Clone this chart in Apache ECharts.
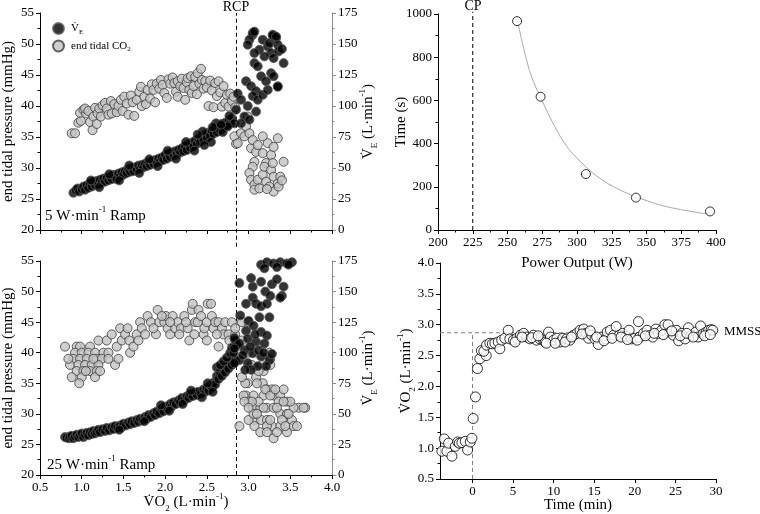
<!DOCTYPE html>
<html><head><meta charset="utf-8">
<script src="https://cdn.jsdelivr.net/npm/echarts@6/dist/echarts.min.js"></script>
<style>html,body{margin:0;padding:0;background:#fff}#c{width:760px;height:514px}</style>
</head><body><div id="c"></div>
<script>
// ---------------- DATA ----------------
const rcpVO2 = 2.855;
const veTop = [[0.90,30],[0.93,32],[0.95,33.5],[0.97,31],[1.00,33],[1.02,35],[1.04,32.5],[1.06,36],[1.08,34],[1.10,37.5],[1.12,35],[1.14,39],[1.16,36.5],[1.18,39.5],[1.20,37],[1.22,40.5],[1.24,38],[1.26,41.5],[1.28,39],[1.30,42],[1.32,40],[1.34,43],[1.36,41],[1.38,44.5],[1.40,42.5],[1.42,41],[1.44,45.5],[1.46,43.5],[1.48,46.5],[1.50,44.5],[1.52,47.5],[1.54,46],[1.56,49],[1.58,47],[1.60,50],[1.62,47.5],[1.64,50.5],[1.66,49],[1.68,52],[1.70,49.5],[1.72,52.5],[1.74,50.5],[1.76,53.5],[1.78,51.5],[1.80,54.5],[1.82,52.5],[1.84,55.5],[1.86,53.5],[1.88,56.5],[1.90,54.5],[1.92,57.5],[1.94,55.5],[1.96,58.5],[1.98,56.5],[2.00,60.5],[2.02,57.5],[2.04,61.5],[2.06,59],[2.08,62.5],[2.10,60],[2.12,63.5],[2.14,61],[2.16,64.5],[2.18,62.5],[2.20,66],[2.22,63.5],[2.24,67.5],[2.26,64.5],[2.28,69],[2.30,66.5],[2.32,70.5],[2.34,67.5],[2.36,72],[2.38,69.5],[2.40,73.5],[2.42,71],[2.44,75.5],[2.46,72.5],[2.48,77],[2.50,74.5],[2.52,78.5],[2.54,76],[2.56,80],[2.58,77.5],[2.60,81.5],[2.62,79],[2.64,83.5],[2.66,80.5],[2.68,85.5],[2.70,82.5],[2.72,86.5],[2.74,84.5],[2.76,88],[2.78,86],[2.80,90],
[1.11,40],[1.21,34.5],[1.33,45],[1.45,40],[1.57,52],[1.69,46],[1.81,57],[1.91,51.5],[2.03,64],[2.13,57.5],[2.25,71],[2.35,64],[2.45,79.5],[2.55,71],[2.61,86],[2.69,79],[2.77,92],[2.47,68.5],[2.57,83],[2.39,77],
[2.83,86],[2.75,83.5],[2.67,85],[2.85,97],[2.87,110],[2.91,105],[2.97,120],[3.03,116],[3.09,112],[3.15,124],[3.21,120],[3.27,126.5],[3.35,116],[3.05,108],[3.11,105],[2.99,100],[2.95,91.5],[2.91,86],[3.01,89],[3.09,95.5],[3.17,109],[3.23,113],[3.30,124],
[3.05,157.5],[3.01,153.4],[2.99,149.4],[3.17,153.4],[3.29,157.5],[3.33,154.8],[3.35,149.4],[3.23,148],[3.13,145.4],[3.07,142.7],[3.27,142.7],[3.36,144],[3.42,134.6],[3.07,134.6],[3.19,140],[3.30,138.6],[3.11,132],[3.25,150.8],[3.05,159],[3.07,160],[3.29,157],[3.33,156],[3.40,146],[3.35,115.5]];
const co2Top = [[0.88,35.6],[0.92,35.6],[0.96,37.3],[0.99,37.6],[0.98,38.9],[1.02,39.4],[1.05,38.8],[1.04,39.6],[1.08,39.2],[1.10,37.4],[1.13,36.1],[1.14,38.3],[1.16,39.7],[1.18,37.1],[1.19,38.8],[1.21,39.6],[1.23,38.3],[1.25,40.1],[1.28,40.5],[1.30,39.6],[1.32,38.6],[1.35,40.8],[1.36,38.8],[1.39,40.3],[1.42,39.0],[1.44,40.0],[1.47,41.0],[1.49,39.2],[1.51,41.5],[1.54,40.4],[1.56,38.6],[1.59,41.7],[1.61,40.6],[1.63,38.4],[1.66,41.0],[1.69,42.3],[1.71,43.1],[1.72,40.0],[1.75,41.5],[1.77,40.3],[1.79,42.6],[1.82,41.2],[1.84,43.5],[1.86,42.6],[1.88,40.6],[1.90,43.6],[1.93,42.8],[1.95,44.2],[1.97,43.4],[1.99,42.1],[2.02,41.3],[2.04,44.3],[2.06,43.6],[2.09,44.6],[2.11,43.7],[2.13,42.3],[2.15,44.0],[2.15,41.5],[2.18,43.2],[2.20,44.4],[2.22,42.9],[2.24,41.0],[2.26,43.8],[2.27,44.5],[2.29,42.6],[2.31,44.8],[2.32,42.1],[2.34,43.2],[2.36,44.7],[2.38,41.9],[2.39,45.3],[2.41,43.6],[2.43,46.0],[2.44,44.2],[2.46,42.8],[2.48,44.0],[2.50,43.0],[2.52,40.0],[2.54,44.1],[2.56,42.5],[2.58,39.8],[2.60,43.7],[2.62,41.6],[2.64,44.0],[2.66,42.2],[2.68,39.9],[2.70,43.2],[2.72,40.5],[2.74,41.8],[2.76,39.9],[2.78,42.0],[2.80,40.8],[2.82,41.5],[2.84,39.8],
[2.85,33.9],[2.83,35.1],[2.87,34.0],[2.91,35.6],[2.95,35.1],[2.99,38.3],[2.97,36.7],[3.01,35.6],[3.03,33.2],[3.05,34.5],[3.07,31.0],[3.09,32.6],[3.11,33.7],[3.17,35.1],[3.17,32.4],[3.21,30.8],[3.23,34.0],[3.27,32.1],[3.30,33.4],[3.35,34.8],[3.42,31.0],[3.05,30.2],[3.01,29.2],[3.03,28.1],[3.07,27.3],[3.07,26.5],[3.11,28.1],[3.13,26.7],[3.17,28.9],[3.19,30.2],[3.21,27.8],[3.25,27.0],[3.27,29.7],[3.29,30.8],[3.30,28.6],[3.30,26.2],[3.35,27.5],[3.36,27.0],[3.38,28.6],[3.40,28.0],[3.22,26.6]];
const veBottom = [[0.80,31],[0.82,30.5],[0.85,30],[0.86,31.5],[0.88,32],[0.90,30],[0.92,31.5],[0.94,33],[0.96,31],[0.98,32.5],[1.00,34],[1.02,31],[1.04,33],[1.06,34.5],[1.08,32.5],[1.10,35],[1.12,33.5],[1.14,36],[1.16,34],[1.18,35.5],[1.20,37],[1.22,35],[1.25,37.5],[1.28,36],[1.30,38.5],[1.33,36.5],[1.36,39],[1.38,37.5],[1.40,40],[1.43,38.5],[1.46,40.5],[1.48,39],[1.50,42],[1.53,40.5],[1.56,43],[1.58,41.5],[1.60,44],[1.63,42.5],[1.66,45],[1.68,43.5],[1.70,46],[1.73,45],[1.76,47.5],[1.78,46],[1.80,49],[1.83,47.5],[1.86,50.5],[1.88,49],[1.90,52],[1.93,50.5],[1.96,54],[1.98,52],[2.00,56],[2.03,54],[2.06,58],[2.08,56],[2.10,59.5],[2.13,58],[2.16,61],[2.18,59.5],[2.20,63],[2.23,61],[2.26,64.5],[2.28,63],[2.30,66],[2.33,64.5],[2.36,67.5],[2.38,65.5],[2.40,68],[2.43,66.5],[2.46,70],[2.48,68],[2.50,71],[2.52,69],[2.54,73],[2.56,71.5],[2.58,75.5],[2.60,74],[2.62,81],[2.64,78.5],[2.66,83],[2.68,81],[2.70,86],[2.72,84],[2.74,89],[2.76,87],[2.78,92],[2.80,90],[2.82,95],[2.84,93],
[1.45,37],[1.75,44],[1.95,57],[2.05,52.5],[2.21,58],[2.31,69],[2.44,63.5],[2.51,75],[2.57,68],
[2.62,88],[2.66,90],[2.70,93],[2.74,96],[2.78,100],[2.80,104],[2.84,110],[2.82,100],[2.83,112],[2.86,106],
[2.89,157],[3.03,161],[3.05,154],[3.15,158],[3.20,150],[3.28,156],[3.34,160],[3.42,154],[3.40,146.5],[3.26,146.5],[3.05,145],[2.97,140],[3.09,140],[3.15,138],[3.22,140],[3.38,145],[3.15,172],[3.22,174],[3.30,173],[3.38,174],[3.46,173],[3.52,174],[3.19,169],[3.48,172],[3.34,170],
[2.90,130.5],[3.00,126],[3.13,129],[3.25,129],[3.06,122],[2.97,118],[3.15,117],[3.22,114],[2.99,111.5],[3.09,109],[3.19,107.5],[2.89,107.5],[2.83,103.5],[2.95,102],[3.05,99.5],[3.15,97],[3.25,94],[3.21,89],[2.99,91.5],[2.89,94],[2.83,91.5],[3.11,89],[3.03,86],[2.93,98],[3.02,105],[3.08,115],[3.12,102],[2.96,86],[3.18,100],[3.28,99]];
const co2Bottom = [[0.80,41],[0.94,41],[0.98,41],[1.10,41],[0.92,40],[1.00,40],[1.08,40],[1.16,40],[1.26,40],[1.32,40],[0.90,39],[0.98,39],[1.06,39],[1.18,39],[1.24,39],[1.32,39],[0.86,38],[0.96,38],[1.04,38],[1.12,38],[1.20,38],[0.94,37],[1.02,37],[1.10,37],[1.18,37],[0.88,36],[1.00,36],[1.16,36],[0.97,35],[1.05,37],[0.84,39],[1.14,39],[1.22,37],
[1.20,42],[1.30,42],[1.36,43],[1.40,38],[1.44,39],[1.46,44],[1.42,41],[1.48,42],[1.52,43],[1.57,42],[1.58,40],[1.62,41],[1.66,43],[1.70,45],[1.72,44],[1.68,42],[1.79,46],[1.83,45],[1.76,43],[1.89,43],[1.91,47],[1.93,45],[1.86,44],[1.99,45],[2.01,46],[2.03,44],[2.06,43],[2.09,46],[2.12,44],[2.15,45],[2.19,44],[2.17,43],[2.23,46],[2.27,44],[2.29,42],[2.25,45],[2.32,47],[2.33,48],[2.36,45],[2.39,45],[2.40,47],[2.43,46],[2.46,43],[2.47,44],[2.50,45],[2.51,48],[2.55,48],[2.56,46],[2.58,44],[2.60,45],[2.64,45],[2.64,41],[2.68,44],[2.70,43],[2.72,45],[2.76,43],[2.77,42],[2.80,45],[2.84,43],[2.84,44],[2.92,45],[3.00,45],[2.92,42],[2.50,42],[2.62,43],[2.35,43],[2.06,45],[1.96,46],[1.55,44],
[2.89,28],[2.99,35],[3.09,36],[3.17,35],[3.18,33],[3.22,34],[3.28,34],[3.30,33],[3.38,33],[3.42,34],[3.46,32],[3.60,31],[3.68,31],[2.97,33],[3.00,32],[3.05,31],[3.07,29],[3.14,31],[3.22,31],[3.30,31],[3.38,30],[3.46,30],[3.54,31],[3.15,29],[3.22,29],[3.07,28],[3.28,28],[3.38,28],[3.52,29],[3.00,29],[3.06,30],[3.14,27],[3.22,28],[3.30,26],[3.22,27],[3.46,27],[3.54,28],[3.58,28],[3.48,30],[3.50,32],[3.66,31],[3.06,33],[3.20,34],[3.26,33],[3.32,34],[3.36,32],[3.12,32],[3.04,32],[3.18,31],[3.34,31],[2.94,33],[2.95,32],[2.96,35],[3.18,37],[3.26,38],[3.16,38],[2.92,36],[3.00,31],[3.10,35],[3.40,29],[3.44,28],[3.34,27],[3.26,29],[3.42,32],[3.10,30],[3.04,38],[3.25,40],[3.26,39],[3.12,37],[2.99,40],[3.02,41]];
const cpPower = 225;
const testPower = [256.9, 273.8, 306.4, 342.4, 395.7];
const testTime = [967, 617, 259, 150, 86];
const fitPower = [257.6, 262.5, 267.3, 273.8, 284.1, 293.7, 306.4, 316.5, 328.5, 342.4, 364.6, 395.7];
const fitTime = [957, 818, 710, 614, 478, 378, 293, 239, 193, 154, 108, 72];
const mmssVO2 = 2.87;
const vo2Time = [[-3.77,0.95],[-3.48,1.15],[-3.15,0.95],[-2.94,1.08],[-2.53,0.87],[-2.12,1.03],[-1.83,1.10],[-1.62,1.08],[-1.30,1.09],[-0.89,1.11],[-0.60,0.97],[-0.27,1.10],[-0.07,1.16],
[0.09,1.48],[0.37,1.83],[0.61,2.29],[0.91,2.45],[1.10,2.58],[1.69,2.50],[1.40,2.57],[1.73,2.67],[2.14,2.70],[2.45,2.69],[2.76,2.70],[3.17,2.72],[3.37,2.61],[3.6,2.75],[3.99,2.78],[4.4,2.91],
[4.6,2.77],[5.05,2.75],[5.46,2.78],[5.9,2.83],[6.3,2.86],[6.7,2.80],[7.1,2.77],[7.5,2.83],[7.9,2.75],[8.3,2.77],[8.75,2.75],[8.95,2.72],[9.37,2.88],[9.6,2.80],[10.0,2.75],[10.4,2.78],[10.8,2.72],[11.14,2.78],[11.6,2.77],[12.0,2.75],[12.45,2.83],[12.85,2.86],[13.26,2.91],[13.7,2.93],[14.0,2.86],[14.3,2.78],[14.7,2.83],[15.1,2.77],[15.5,2.68],[15.95,2.80],[16.4,2.77],[16.6,2.88],[17.0,2.91],[17.4,2.83],[17.7,2.97],[18.1,2.83],[18.5,2.86],[18.9,2.81],[19.3,2.91],[19.6,2.77],[20.0,2.78],[20.45,3.05],[20.6,2.80],[21.07,2.86],[21.5,2.91],[21.9,2.83],[22.2,2.80],[22.6,2.93],[22.9,2.86],[23.3,2.91],[23.7,3.00],[24.1,3.00],[24.35,2.88],[24.75,2.83],[25.1,2.91],[25.4,2.74],[25.8,2.86],[26.2,2.77],[26.6,2.95],[27.0,2.83],[27.5,2.88],[27.8,2.80],[28.1,2.98],[28.4,2.85],[28.8,2.88],[29.1,2.91],[29.4,2.92],[29.6,2.91],
[5.25,2.72],[6.1,2.80],[7.3,2.79],[8.1,2.82],[9.1,2.70],[10.2,2.70],[11.4,2.72],[12.2,2.80],[13.5,2.85],[14.5,2.90],[15.3,2.80],[16.2,2.74],[17.2,2.78],[18.3,2.80],[19.1,2.76],[20.3,2.75],[21.3,2.82],[22.4,2.86],[23.5,2.84],[24.55,2.90],[25.6,2.82],[26.4,2.86],[27.2,2.80],[28.6,2.82],[29.3,2.84]];
const timeTicks = [0, 5, 10, 15, 20, 25, 30];

// ---------------- STYLE ----------------
const F = 'Liberation Serif';
function rich(size, lh) {
  return {
    b: {fontFamily: F, fontSize: size, color: '#000', lineHeight: lh || size + 6},
    sub: {fontFamily: F, fontSize: Math.round(size * 0.62), color: '#000', verticalAlign: 'bottom'},
    sup: {fontFamily: F, fontSize: Math.round(size * 0.62), color: '#000', verticalAlign: 'top'}
  };
}
const veName = '{b|V\u0307}{sub|E}{b| (L\u00B7min}{sup|-1}{b|)}';
const vo2Name = '{b|V\u0307O}{sub|2}{b| (L\u00B7min}{sup|-1}{b|)}';
const lab = {fontFamily: F, fontSize: 13, color: '#000', margin: 6};
const tick = {show: true, length: 4, lineStyle: {color: '#000'}};
const minor = {show: true, splitNumber: 2, length: 2.5, lineStyle: {color: '#000'}};

function vAxis(o) {
  return Object.assign({
    type: 'value', splitLine: {show: false},
    axisLine: {show: true, onZero: false, lineStyle: {color: '#000', width: 1}},
    axisTick: tick, minorTick: minor, axisLabel: lab,
    nameLocation: 'middle', nameMoveOverlap: false,
    nameTextStyle: {rich: rich(15), fontFamily: F, fontSize: 15, color: '#000'}
  }, o);
}
const fix1 = v => v.toFixed(1);
const plain = v => String(v);
const grayLine = {show: true, onZero: false, lineStyle: {color: '#8a8a8a', width: 1}};
const grayTick = {show: true, length: 4, lineStyle: {color: '#8a8a8a'}};
const grayMinor = {show: true, splitNumber: 2, length: 2.5, lineStyle: {color: '#8a8a8a'}};

const blackPt = {color: '#000', borderColor: '#5a5a5a', borderWidth: 1};
const grayPt = {color: '#c3c3c3', borderColor: '#3c3c3c', borderWidth: 1};
const openPt = {color: '#fff', borderColor: '#000', borderWidth: 1};

const option = {
  animation: false,
  backgroundColor: '#fff',
  textStyle: {fontFamily: F, color: '#000'},
  grid: [
    {left: 38, top: 13, width: 294, height: 217},
    {left: 38, top: 261, width: 294, height: 218},
    {left: 438, top: 14, width: 278, height: 216},
    {left: 440, top: 263, width: 276, height: 216}
  ],
  xAxis: [
    vAxis({gridIndex: 0, min: 0.5, max: 4, interval: 0.5, axisLabel: {show: false}}),
    vAxis({gridIndex: 1, min: 0.5, max: 4, interval: 0.5, axisLabel: Object.assign({}, lab, {formatter: fix1}), name: vo2Name, nameGap: 17}),
    vAxis({gridIndex: 2, min: 200, max: 400, interval: 25, axisLabel: Object.assign({}, lab, {formatter: plain}), name: 'Power Output (W)', nameGap: 26}),
    vAxis({gridIndex: 3, min: -4, max: 30, minorTick: {show: false},
      axisTick: Object.assign({}, tick, {customValues: timeTicks}),
      axisLabel: Object.assign({}, lab, {customValues: timeTicks, formatter: plain}),
      name: 'Time (min)', nameGap: 19})
  ],
  yAxis: [
    vAxis({gridIndex: 0, min: 20, max: 55, interval: 5, name: 'end tidal pressure (mmHg)', nameGap: 24}),
    vAxis({gridIndex: 0, position: 'right', min: 0, max: 175, interval: 25, axisLine: grayLine, axisTick: grayTick, minorTick: grayMinor, name: veName, nameGap: 26, nameRotate: 90}),
    vAxis({gridIndex: 1, min: 20, max: 55, interval: 5, name: 'end tidal pressure (mmHg)', nameGap: 24}),
    vAxis({gridIndex: 1, position: 'right', min: 0, max: 175, interval: 25, axisLine: grayLine, axisTick: grayTick, minorTick: grayMinor, name: veName, nameGap: 26, nameRotate: 90}),
    vAxis({gridIndex: 2, min: 0, max: 1000, interval: 200, axisLabel: Object.assign({}, lab, {formatter: plain}), name: 'Time (s)', nameGap: 29}),
    vAxis({gridIndex: 3, min: 0.5, max: 4, interval: 0.5, axisLabel: Object.assign({}, lab, {formatter: fix1}), name: vo2Name, nameGap: 23})
  ],
  legend: {
    data: ['VE', 'end tidal CO2'], orient: 'vertical', left: 47, top: 17, itemGap: 4,
    itemWidth: 11, itemHeight: 11, icon: 'circle',
    formatter: n => n === 'VE' ? '{b|V\u0307}{sub|E}' : '{b|end tidal CO}{sub|2}',
    textStyle: {rich: rich(11, 14), fontFamily: F, fontSize: 11, padding: [0, 0, 0, 2]}
  },
  series: [
    {type: 'line', xAxisIndex: 0, yAxisIndex: 0, data: [[rcpVO2, 17.3], [rcpVO2, 55]], clip: false, symbol: 'none', silent: true,
      lineStyle: {color: '#000', width: 1, type: [4, 3]}, z: 1},
    {name: 'VE', type: 'scatter', xAxisIndex: 0, yAxisIndex: 1, data: veTop, symbolSize: 9, itemStyle: blackPt, z: 3},
    {name: 'end tidal CO2', type: 'scatter', xAxisIndex: 0, yAxisIndex: 0, data: co2Top, symbolSize: 9, itemStyle: grayPt, z: 2},
    {type: 'line', xAxisIndex: 1, yAxisIndex: 2, data: [[rcpVO2, 20], [rcpVO2, 55]], clip: false, symbol: 'none', silent: true,
      lineStyle: {color: '#000', width: 1, type: [4, 3]}, z: 1},
    {name: 'VE', type: 'scatter', xAxisIndex: 1, yAxisIndex: 3, data: veBottom, symbolSize: 9, itemStyle: blackPt, z: 3},
    {name: 'end tidal CO2', type: 'scatter', xAxisIndex: 1, yAxisIndex: 2, data: co2Bottom, symbolSize: 9, itemStyle: grayPt, z: 2},
    {type: 'line', xAxisIndex: 2, yAxisIndex: 4, data: [[cpPower, 0], [cpPower, 1010]], clip: false, symbol: 'none', silent: true,
      lineStyle: {color: '#000', width: 1, type: [4, 3]}, z: 1},
    {type: 'line', xAxisIndex: 2, yAxisIndex: 4, data: fitPower.map((p, i) => [p, fitTime[i]]), smooth: 0.4, symbol: 'none', silent: true,
      lineStyle: {color: '#a8a8a8', width: 1}, z: 2},
    {type: 'scatter', xAxisIndex: 2, yAxisIndex: 4, data: testPower.map((p, i) => [p, testTime[i]]), symbolSize: 9, itemStyle: openPt, z: 3},
    {type: 'line', xAxisIndex: 3, yAxisIndex: 5, data: [[-4, mmssVO2], [30, mmssVO2]], symbol: 'none', silent: true,
      lineStyle: {color: '#808080', width: 1, type: [4, 3]}, z: 1},
    {type: 'line', xAxisIndex: 3, yAxisIndex: 5, data: [[0, 0.5], [0, mmssVO2]], symbol: 'none', silent: true,
      lineStyle: {color: '#808080', width: 1, type: [4, 3]}, z: 1},
    {type: 'scatter', xAxisIndex: 3, yAxisIndex: 5, data: vo2Time, symbolSize: 10, itemStyle: openPt, z: 3}
  ],
  graphic: [
    {type: 'text', x: 236, y: 7, style: {text: 'RCP', fontFamily: F, fontSize: 14, fill: '#000', align: 'center', verticalAlign: 'middle', textAlign: 'center', textVerticalAlign: 'middle'}},
    {type: 'text', x: 473, y: 6, style: {text: 'CP', fontFamily: F, fontSize: 14, fill: '#000', align: 'center', verticalAlign: 'middle', textAlign: 'center', textVerticalAlign: 'middle'}},
    {type: 'text', x: 45, y: 216, style: {text: '{b|5 W\u00B7min}{sup|-1}{b| Ramp}', rich: rich(15), align: 'left', verticalAlign: 'middle', textAlign: 'left', textVerticalAlign: 'middle'}},
    {type: 'text', x: 47, y: 465, style: {text: '{b|25 W\u00B7min}{sup|-1}{b| Ramp}', rich: rich(15), align: 'left', verticalAlign: 'middle', textAlign: 'left', textVerticalAlign: 'middle'}},
    {type: 'text', x: 724, y: 332, style: {text: 'MMSS', fontFamily: F, fontSize: 13, fill: '#000', align: 'left', verticalAlign: 'middle', textAlign: 'left', textVerticalAlign: 'middle'}}
  ]
};
const chart = echarts.init(document.getElementById('c'), null, {renderer: 'canvas'});
chart.setOption(option);
</script>
</body></html>
